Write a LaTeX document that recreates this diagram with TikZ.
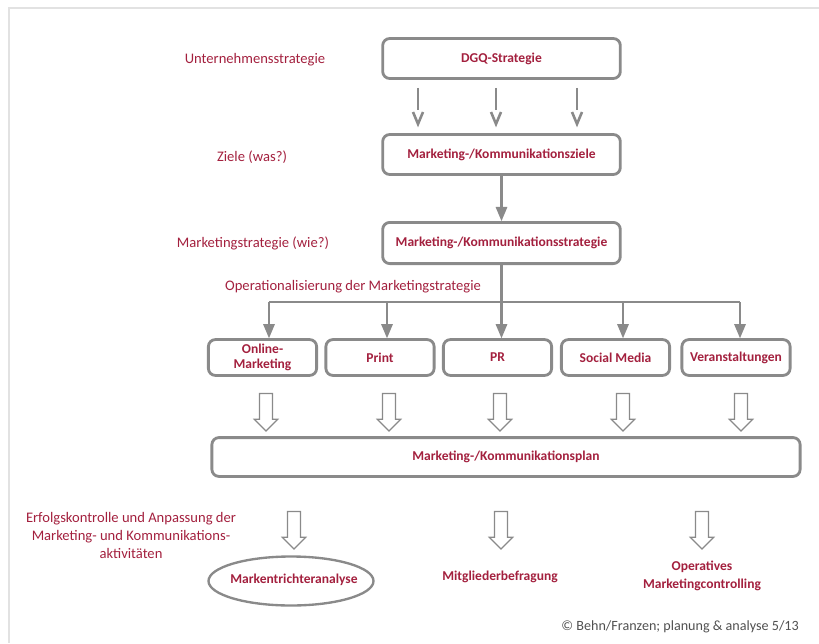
\documentclass[tikz,border=0pt]{standalone}
\usepackage{fontspec}
\setmainfont{Carlito}
\usetikzlibrary{arrows}
\usetikzlibrary{shapes.geometric, shapes.arrows, positioning, calc}
\usepackage{xcolor}

\definecolor{dgqred}{RGB}{163,32,62}
\definecolor{boxgray}{RGB}{138,138,138}
\definecolor{framegray}{RGB}{226,226,226}
\definecolor{notegray}{RGB}{80,80,80}

\tikzset{
  box/.style={draw=boxgray, line width=2.4pt, rounded corners=6pt, text=dgqred,
    font=\bfseries\fontsize{11.5}{13}\selectfont, align=center, inner sep=2pt},
  lbl/.style={text=dgqred, font=\fontsize{12.4}{15.3}\selectfont, align=center, inner sep=0pt},
  link/.style={draw=boxgray, line width=1.8pt, -triangle 45},
  vline/.style={draw=boxgray, line width=2.2pt},
  hollow/.style={single arrow, draw=boxgray, line width=1pt, shape border rotate=270,
    minimum height=32pt, inner sep=5pt, single arrow head extend=4.5pt},
}

\begin{document}
\begin{tikzpicture}[x=0.85pt, y=-0.85pt]
      \useasboundingbox (0,0) rectangle (819,643);
      \draw[framegray, line width=1.3pt] (9,643) -- (9,8) -- (819,8);

      % levels on the left
      \node[lbl] (l1) at (255,60) {Unternehmensstrategie};
      \node[lbl] (l2) at (252,157) {Ziele (was?)};
      \node[lbl] (l3) at (253,243) {Marketingstrategie (wie?)};
      \node[lbl] (l4) at (353,287) {Operationalisierung der Marketingstrategie};
      \node[lbl] (l5) at (131,535) {Erfolgskontrolle und Anpassung der\\Marketing- und Kommunikations-\\aktivit\"aten};

      % main column
      \node[box, minimum width=202pt, minimum height=34pt] (dgq) at (501.5,58.5) {DGQ-Strategie};
      \node[box, minimum width=202pt, minimum height=34pt] (ziele) at (501.5,154.5) {Marketing-/Kommunikationsziele};
      \node[box, minimum width=202pt, minimum height=35pt] (mks) at (501.5,243) {Marketing-/Kommunikationsstrategie};

      \foreach \x in {418,496,577} {
        \draw[vline] (\x,88) -- (\x,110);
        \draw[vline] (\x-5,112) -- (\x,124) -- (\x+5,112);
      }
      \draw[link] (ziele) -- (mks);

      % instruments
      \node[box, minimum width=92pt, minimum height=30.5pt] (online) at (262.5,357.5) {Online-\\Marketing};
      \node[box, minimum width=92pt, minimum height=30.5pt] (print) at (380,357.5) {Print};
      \node[box, minimum width=92pt, minimum height=30.5pt] (pr) at (497.5,357.5) {PR};
      \node[box, minimum width=92pt, minimum height=30.5pt] (social) at (615.5,357.5) {Social Media};
      \node[box, minimum width=92pt, minimum height=30.5pt] (events) at (736,357.5) {Veranstaltungen};

      \coordinate (b1) at (269,302);
      \coordinate (b2) at (387,302);
      \coordinate (b3) at (501.5,302);
      \coordinate (b4) at (623,302);
      \coordinate (b5) at (740,302);
      \draw[vline, line width=1.8pt] (mks.south) -- (b3);
      \draw[vline, line width=1.8pt] (b1) -- (b5);
      \draw[link] (b1) -- (online.north -| b1);
      \draw[link] (b2) -- (print.north -| b2);
      \draw[link] (b3) -- (pr.north -| b3);
      \draw[link] (b4) -- (social.north -| b4);
      \draw[link] (b5) -- (events.north -| b5);

      % plan
      \node[box, minimum width=500pt, minimum height=33pt] (plan) at (506,457) {Marketing-/Kommunikationsplan};
      \node[hollow] (h1) at (266,409) {};
      \node[hollow] (h2) at (389,409) {};
      \node[hollow] (h3) at (500,409) {};
      \node[hollow] (h4) at (623,409) {};
      \node[hollow] (h5) at (741,409) {};

      % controlling
      \node[hollow] (c1) at (294,527) {};
      \node[hollow] (c2) at (501,527) {};
      \node[hollow] (c3) at (702,527) {};
      \node[text=dgqred, font=\bfseries\fontsize{11.5}{13}\selectfont] (funnel) at (294,580) {Markentrichteranalyse};
      \draw[boxgray, line width=2pt] (291,581) ellipse [x radius=82.5, y radius=24.5];
      \node[text=dgqred, font=\bfseries\fontsize{11.5}{13}\selectfont] (survey) at (500,577) {Mitgliederbefragung};
      \node[text=dgqred, font=\bfseries\fontsize{11.5}{15.3}\selectfont, align=center] (ctrl) at (702,576) {Operatives\\Marketingcontrolling};

      \node[anchor=east, text=notegray, font=\fontsize{12}{14}\selectfont] (src) at (803,627) {\textcopyright{} Behn/Franzen; planung \& analyse 5/13};
\end{tikzpicture}
\end{document}
